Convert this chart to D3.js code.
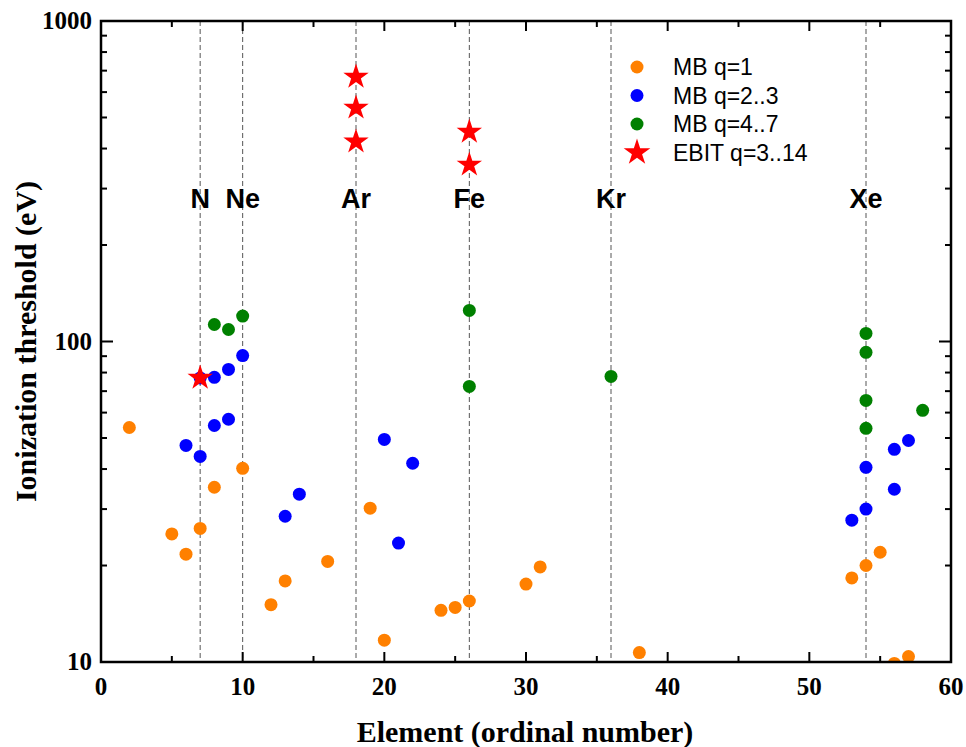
<!DOCTYPE html>
<html><head><meta charset="utf-8">
<script src="https://cdn.jsdelivr.net/npm/d3@7"></script>
<style>body{margin:0;background:#fff}svg{display:block}</style>
</head><body>
<svg id="c" width="966" height="747"></svg>
<script>
const mbQ1 = [[2,53.9],[5,25.1],[6,21.7],[7,26.1],[8,35.1],[10,40.2],[12,15.1],[13,17.9],[16,20.6],[19,30.2],[20,11.7],[24,14.5],[25,14.8],[26,15.5],[30,17.5],[31,19.8],[38,10.7],[53,18.3],[54,20.0],[55,22.0],[56,9.9],[57,10.4]];
const mbQ23 = [[6,47.4],[7,43.8],[7,77],[8,54.7],[8,77.3],[9,57.2],[9,81.8],[10,90.4],[13,28.5],[14,33.4],[20,49.5],[21,23.5],[22,41.7],[53,27.7],[54,30.0],[54,40.5],[56,34.6],[56,46.1],[57,49.1]];
const mbQ47 = [[8,113],[9,109],[10,120],[26,125],[26,72.4],[36,77.8],[54,106],[54,92.5],[54,65.5],[54,53.6],[58,61]];
const ebit = [[7,77],[18,669],[18,536],[18,420],[26,451],[26,356]];
const elements = [[7,"N"],[10,"Ne"],[18,"Ar"],[26,"Fe"],[36,"Kr"],[54,"Xe"]];
const xTicks = [0,10,20,30,40,50,60];
const yTicks = [10,100,1000];
const legendItems = [["MB q=1","#ff8000","circle"],["MB q=2..3","#0000ff","circle"],["MB q=4..7","#008000","circle"],["EBIT q=3..14","#ff0000","star"]];

const svg = d3.select("#c");
const L=101, R=951, T=21, B=662;
const x = d3.scaleLinear().domain([0,60]).range([L,R]);
const y = d3.scaleLog().domain([10,1000]).range([B,T]);

const g = svg.append("g");
g.selectAll(".vl").data(elements).enter().append("line")
 .attr("x1",d=>x(d[0])).attr("x2",d=>x(d[0])).attr("y1",T).attr("y2",B)
 .attr("stroke","#555").attr("stroke-width",1).attr("stroke-dasharray","5,3");
g.selectAll(".el").data(elements).enter().append("text")
 .attr("x",d=>x(d[0])).attr("y",208).attr("text-anchor","middle")
 .attr("font-family","Liberation Sans, Arial, sans-serif").attr("font-weight","bold").attr("font-size",27)
 .text(d=>d[1]);

svg.append("clipPath").attr("id","clip").append("rect").attr("x",L).attr("y",T).attr("width",R-L).attr("height",B-T);
const pts = svg.append("g").attr("clip-path","url(#clip)");
function dots(data,color){
  pts.append("g").selectAll("circle").data(data).enter().append("circle")
   .attr("cx",d=>x(d[0])).attr("cy",d=>y(d[1])).attr("r",6.5).attr("fill",color);
}
dots(mbQ1,"#ff8000");
dots(mbQ23,"#0000ff");
dots(mbQ47,"#008000");
const star = d3.symbol().type(d3.symbolStar).size(200);
pts.append("g").selectAll("path").data(ebit).enter().append("path")
 .attr("d",star).attr("transform",d=>`translate(${x(d[0])},${y(d[1])})`).attr("fill","#ff0000");

const ax = svg.append("g").attr("stroke","#000");
const minorX = d3.range(5,60,10);
const majX = xTicks;
[[B,-1],[T,1]].forEach(([yy,dir])=>{
  ax.selectAll(null).data(majX).enter().append("line").attr("x1",d=>x(d)).attr("x2",d=>x(d)).attr("y1",yy).attr("y2",yy+dir*10).attr("stroke-width",2);
  ax.selectAll(null).data(minorX).enter().append("line").attr("x1",d=>x(d)).attr("x2",d=>x(d)).attr("y1",yy).attr("y2",yy+dir*6).attr("stroke-width",2);
});
const minorY = [];
[10,100].forEach(b=>{for(let i=2;i<=9;i++)minorY.push(b*i);});
[[L,1],[R,-1]].forEach(([xx,dir])=>{
  ax.selectAll(null).data(yTicks).enter().append("line").attr("y1",d=>y(d)).attr("y2",d=>y(d)).attr("x1",xx).attr("x2",xx+dir*12).attr("stroke-width",2);
  ax.selectAll(null).data(minorY).enter().append("line").attr("y1",d=>y(d)).attr("y2",d=>y(d)).attr("x1",xx).attr("x2",xx+dir*6).attr("stroke-width",2);
});
ax.append("rect").attr("x",L).attr("y",T).attr("width",R-L).attr("height",B-T).attr("fill","none").attr("stroke-width",2.5);

const serif = "Liberation Serif, Times New Roman, serif";
svg.selectAll(".xl").data(xTicks).enter().append("text")
 .attr("x",d=>x(d)).attr("y",695).attr("text-anchor","middle")
 .attr("font-family",serif).attr("font-weight","bold").attr("font-size",25).text(d=>d);
svg.selectAll(".yl").data(yTicks).enter().append("text")
 .attr("x",92).attr("y",d=>y(d)+8).attr("text-anchor","end")
 .attr("font-family",serif).attr("font-weight","bold").attr("font-size",25).text(d=>d);
svg.append("text").attr("x",525).attr("y",742).attr("text-anchor","middle")
 .attr("font-family",serif).attr("font-weight","bold").attr("font-size",30).text("Element (ordinal number)");
svg.append("text").attr("transform",`translate(36,${(T+B)/2}) rotate(-90)`).attr("text-anchor","middle")
 .attr("font-family",serif).attr("font-weight","bold").attr("font-size",30).text("Ionization threshold (eV)");

const lg = svg.append("g");
legendItems.forEach((it,i)=>{
  const yy = 67 + i*28.5;
  if(it[2]==="circle") lg.append("circle").attr("cx",637).attr("cy",yy).attr("r",6.5).attr("fill",it[1]);
  else lg.append("path").attr("d",d3.symbol().type(d3.symbolStar).size(220)).attr("transform",`translate(637,${yy})`).attr("fill",it[1]);
  lg.append("text").attr("x",673).attr("y",yy+8).attr("font-family","Liberation Sans, Arial, sans-serif").attr("font-size",23).text(it[0]);
});
</script>
</body></html>
